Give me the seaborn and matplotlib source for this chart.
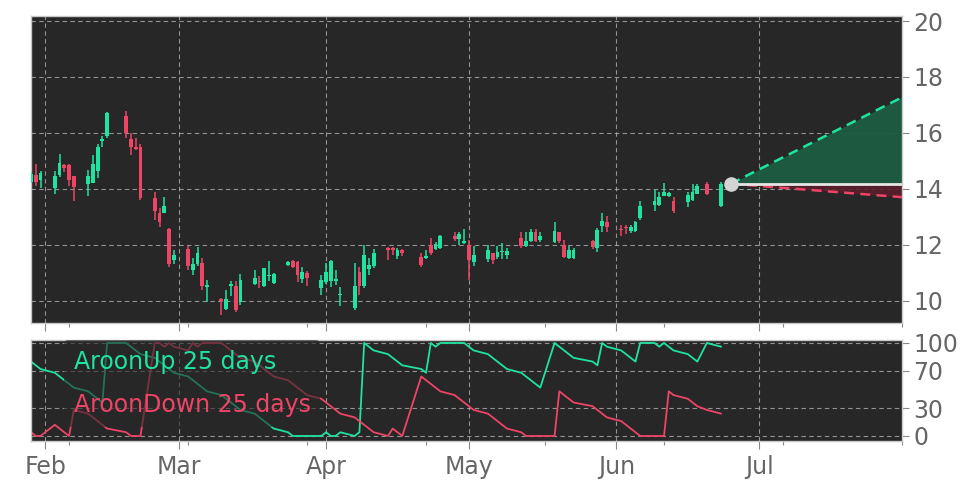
import numpy as np
import pandas as pd
import matplotlib
matplotlib.use("Agg")
import matplotlib.pyplot as plt
import matplotlib.dates as mdates
from matplotlib.lines import Line2D
from matplotlib.ticker import FixedLocator
import seaborn as sns

# ---------------- data ----------------
dates = [
    "2025-01-29", "2025-01-30", "2025-01-31",
    "2025-02-03", "2025-02-04", "2025-02-05", "2025-02-06", "2025-02-07",
    "2025-02-10", "2025-02-11", "2025-02-12", "2025-02-13", "2025-02-14",
    "2025-02-18", "2025-02-19", "2025-02-20", "2025-02-21",
    "2025-02-24", "2025-02-25", "2025-02-26", "2025-02-27", "2025-02-28",
    "2025-03-03", "2025-03-04", "2025-03-05", "2025-03-06", "2025-03-07",
    "2025-03-10", "2025-03-11", "2025-03-12", "2025-03-13", "2025-03-14",
    "2025-03-17", "2025-03-18", "2025-03-19", "2025-03-20", "2025-03-21",
    "2025-03-24", "2025-03-25", "2025-03-26", "2025-03-27", "2025-03-28",
    "2025-03-31", "2025-04-01", "2025-04-02", "2025-04-03", "2025-04-04",
    "2025-04-07", "2025-04-08", "2025-04-09", "2025-04-10", "2025-04-11",
    "2025-04-14", "2025-04-15", "2025-04-16", "2025-04-17",
    "2025-04-21", "2025-04-22", "2025-04-23", "2025-04-24", "2025-04-25",
    "2025-04-28", "2025-04-29", "2025-04-30", "2025-05-01", "2025-05-02",
    "2025-05-05", "2025-05-06", "2025-05-07", "2025-05-08", "2025-05-09",
    "2025-05-12", "2025-05-13", "2025-05-14", "2025-05-15", "2025-05-16",
    "2025-05-19", "2025-05-20", "2025-05-21", "2025-05-22", "2025-05-23",
    "2025-05-27", "2025-05-28", "2025-05-29", "2025-05-30",
    "2025-06-02", "2025-06-03", "2025-06-04", "2025-06-05", "2025-06-06",
    "2025-06-09", "2025-06-10", "2025-06-11", "2025-06-12", "2025-06-13",
    "2025-06-16", "2025-06-17", "2025-06-18", "2025-06-20", "2025-06-23",
]

opens = [
    14.26, 14.50, 14.30,
    14.02, 14.50, 14.86, 14.85, 14.44,
    14.17, 14.22, 14.62, 15.70, 15.90,
    16.60, 15.78, 15.48, 15.51,
    13.67, 13.13, 13.15, 12.55, 11.45,
    11.85, 11.10, 11.31, 11.35, 10.48,
    10.05, 9.70, 10.53, 10.51, 9.94,
    10.60, 10.71, 10.54, 10.87, 10.63,
    11.27, 11.43, 11.37, 10.78, 10.99,
    10.45, 10.65, 10.71, 10.69, 10.20,
    9.74, 11.01, 10.51, 11.13, 11.23,
    11.90, 11.90, 11.60, 11.82,
    11.56, 11.52, 12.00, 11.84, 11.88,
    12.32, 12.20, 12.06, 12.00, 11.37,
    11.48, 11.70, 11.56, 11.74, 11.64,
    12.24, 11.96, 12.12, 12.44, 12.18,
    12.08, 12.44, 12.00, 11.52, 11.52,
    12.12, 11.88, 12.68, 12.83,
    12.56, 12.62, 12.50, 12.48, 12.95,
    13.43, 13.43, 13.76, 13.73, 13.57,
    13.51, 13.61, 13.82, 14.18, 13.39,
]
highs = [
    14.60, 14.90, 14.62,
    14.65, 15.25, 14.90, 14.90, 14.46,
    14.68, 15.20, 15.60, 15.90, 16.76,
    16.80, 16.00, 15.80, 15.60,
    13.90, 13.32, 13.72, 12.60, 11.80,
    11.95, 11.54, 11.93, 11.54, 10.75,
    10.08, 10.39, 10.69, 10.69, 10.96,
    11.10, 10.87, 11.17, 11.40, 11.00,
    11.40, 11.45, 11.40, 11.19, 11.05,
    10.93, 11.35, 11.45, 11.10, 10.50,
    11.35, 11.19, 12.00, 11.54, 11.85,
    11.92, 11.92, 11.90, 11.84,
    11.70, 11.82, 12.24, 12.10, 12.36,
    12.45, 12.44, 12.56, 12.18, 11.96,
    12.00, 11.72, 11.94, 12.06, 11.87,
    12.44, 12.44, 12.56, 12.56, 12.44,
    12.80, 12.46, 12.18, 11.94, 11.90,
    12.18, 12.60, 13.13, 13.04,
    12.71, 12.71, 12.71, 12.84, 13.55,
    13.96, 13.90, 14.20, 13.90, 13.70,
    13.90, 14.18, 14.18, 14.26, 14.25,
]
lows = [
    14.20, 14.10, 14.03,
    13.81, 14.43, 14.60, 14.10, 13.55,
    13.73, 14.20, 14.40, 15.50, 15.82,
    15.80, 15.20, 15.40, 13.60,
    12.90, 12.65, 13.13, 11.20, 11.30,
    11.10, 10.93, 11.23, 10.39, 9.94,
    9.50, 9.68, 10.15, 9.60, 9.86,
    10.55, 10.45, 10.50, 10.69, 10.60,
    11.25, 11.15, 10.68, 10.64, 10.51,
    10.21, 10.60, 10.50, 10.57, 9.80,
    9.68, 10.20, 10.46, 10.93, 11.16,
    11.46, 11.64, 11.50, 11.60,
    11.20, 11.50, 11.64, 11.80, 11.85,
    12.14, 12.00, 12.04, 10.75, 11.25,
    11.38, 11.30, 11.49, 11.49, 11.50,
    11.90, 11.92, 12.08, 12.08, 12.10,
    12.06, 12.06, 11.52, 11.48, 11.48,
    11.85, 11.73, 12.47, 12.47,
    12.30, 12.38, 12.42, 12.44, 12.89,
    13.22, 13.39, 13.73, 13.70, 13.15,
    13.35, 13.55, 13.80, 13.79, 13.36,
]
closes = [
    14.54, 14.24, 14.58,
    14.44, 14.94, 14.74, 14.32, 14.06,
    14.44, 14.90, 15.48, 15.77, 16.72,
    15.99, 15.48, 15.42, 13.67,
    13.22, 12.83, 13.37, 11.30, 11.62,
    11.25, 11.31, 11.70, 10.51, 10.55,
    9.98, 10.07, 10.60, 9.65, 10.73,
    10.81, 10.65, 11.17, 10.93, 10.96,
    11.37, 11.20, 10.93, 11.01, 10.81,
    10.73, 11.01, 11.40, 10.78, 10.23,
    10.54, 10.54, 11.64, 11.29, 11.70,
    11.82, 11.82, 11.82, 11.70,
    11.29, 11.60, 11.70, 12.02, 12.32,
    12.20, 12.38, 12.15, 11.44, 11.64,
    11.82, 11.44, 11.74, 11.78, 11.76,
    11.94, 12.15, 12.45, 12.12, 12.30,
    12.50, 12.12, 11.56, 11.82, 11.82,
    11.92, 12.51, 12.86, 12.65,
    12.52, 12.58, 12.62, 12.80, 13.39,
    13.58, 13.72, 13.88, 13.85, 13.21,
    13.79, 13.90, 14.10, 13.82, 14.18,
]

aroon_up = [
    80, 76, 72,
    68, 64, 60, 56, 52,
    48, 44, 40, 36, 100,
    100, 96, 92, 88,
    84, 80, 76, 72, 68,
    64, 60, 56, 52, 48,
    44, 40, 36, 32, 28,
    24, 20, 16, 12, 8,
    4, 0, 0, 0, 0,
    0, 4, 0, 0, 4,
    0, 4, 100, 96, 92,
    88, 84, 80, 76,
    72, 68, 100, 96, 100,
    100, 100, 100, 96, 92,
    88, 84, 80, 76, 72,
    68, 64, 60, 56, 52,
    100, 96, 92, 88, 84,
    80, 76, 100, 96,
    92, 88, 84, 80, 100,
    100, 96, 100, 96, 92,
    88, 84, 80, 100, 96,
]
aroon_down = [
    4, 0, 0,
    12, 8, 4, 0, 28,
    24, 20, 16, 12, 8,
    4, 0, 0, 0,
    100, 100, 96, 100, 96,
    92, 100, 96, 100, 100,
    100, 96, 92, 88, 84,
    80, 76, 72, 68, 64,
    60, 56, 52, 48, 44,
    40, 36, 32, 28, 24,
    20, 16, 12, 8, 4,
    0, 8, 4, 0,
    64, 60, 56, 52, 48,
    44, 40, 36, 32, 28,
    24, 20, 16, 12, 8,
    4, 0, 0, 0, 0,
    0, 48, 44, 40, 36,
    32, 28, 24, 20,
    16, 12, 8, 4, 0,
    0, 0, 0, 48, 44,
    40, 36, 32, 28, 24,
]

proj_dates = ["2025-06-25", "2025-07-31"]
proj_mid = [14.18, 14.18]
proj_high = [14.18, 17.27]
proj_low = [14.18, 13.70]

price_ticks = [10, 12, 14, 16, 18, 20]
aroon_ticks = [0, 30, 70, 100]
minor_tick_dates = ["2025-02-06", "2025-03-03", "2025-03-28", "2025-04-22",
                    "2025-05-17", "2025-06-11", "2025-07-06", "2025-07-31"]
legend_labels = ["AroonUp 25 days", "AroonDown 25 days"]

# ---------------- style ----------------
sns.set_theme(style="dark")
plt.rcParams["font.family"] = ["DejaVu Sans"]

UP = "#1fe3a0"
DOWN = "#ee4466"
BG = "#272727"
TXT = "#666666"
FS = 17

df = pd.DataFrame({
    "date": pd.to_datetime(dates),
    "open": opens, "high": highs, "low": lows, "close": closes,
    "aroon_up": aroon_up, "aroon_down": aroon_down,
})
df["color"] = np.where(df["close"] >= df["open"], UP, DOWN)
df["body_lo"] = df[["open", "close"]].min(axis=1)
df["body_h"] = (df["close"] - df["open"]).abs().clip(lower=0.035)

fig = plt.figure(figsize=(9.72, 4.86), dpi=100)
fig.patch.set_facecolor("white")
ax1 = fig.add_axes([31 / 972, 1 - 323 / 486, 871 / 972, 307 / 486])
ax2 = fig.add_axes([31 / 972, 1 - 441 / 486, 871 / 972, 101 / 486], sharex=ax1)

for ax in (ax1, ax2):
    ax.set_facecolor(BG)
    for s in ax.spines.values():
        s.set_color("#c8c8c8")
        s.set_linewidth(1.0)
    ax.grid(True, which="major", color="#b8b8b8", linestyle=(0, (4, 3)),
            linewidth=0.8, alpha=0.75)
    ax.set_axisbelow(True)
    ax.yaxis.tick_right()
    ax.tick_params(axis="y", which="both", left=False, right=True,
                   labelleft=False, labelright=True, labelsize=FS,
                   labelcolor=TXT, color="#888888", length=5, width=0.8, pad=3)
    ax.tick_params(axis="x", which="major", bottom=True, length=6, width=0.8,
                   color="#888888", labelsize=FS, labelcolor=TXT, pad=4)
    ax.tick_params(axis="x", which="minor", bottom=True, length=3, width=0.8,
                   color="#888888")

# ---------------- candles ----------------
ax1.vlines(df["date"], df["low"], df["high"], colors=df["color"], linewidth=1.1,
           zorder=3)
ax1.bar(df["date"], df["body_h"], bottom=df["body_lo"], width=0.8,
        color=df["color"], linewidth=0, zorder=4)

# ---------------- projection cone ----------------
pdates = pd.to_datetime(proj_dates)
ax1.fill_between(pdates, proj_mid, proj_high, color="#1d5c42", alpha=0.95,
                 linewidth=0, zorder=2)
ax1.fill_between(pdates, proj_low, proj_mid, color="#5a1e2b", alpha=0.9,
                 linewidth=0, zorder=2)
ax1.plot(pdates, proj_high, color=UP, linestyle=(0, (4, 2.5)), linewidth=1.8,
         zorder=5)
ax1.plot(pdates, proj_low, color=DOWN, linestyle=(0, (4, 2.5)), linewidth=1.8,
         zorder=5)
ax1.plot(pdates, proj_mid, color="#e6e6e6", linewidth=2.0, zorder=5)
ax1.plot(pdates[:1], proj_mid[:1], marker="o", markersize=9.5,
         color="#d4d4d4", zorder=6, linestyle="none")

ax1.set_ylim(9.2, 20.18)
ax1.set_yticks(price_ticks)
ax1.set_ylabel("")
ax1.set_xlabel("")
ax1.tick_params(axis="x", labelbottom=False)

# ---------------- aroon ----------------
sns.lineplot(data=df, x="date", y="aroon_up", ax=ax2, color=UP, linewidth=1.3)
sns.lineplot(data=df, x="date", y="aroon_down", ax=ax2, color=DOWN, linewidth=1.3)
ax2.set_ylim(-5.4, 103.2)
ax2.set_yticks(aroon_ticks)
ax2.set_ylabel("")
ax2.set_xlabel("")

handles = [Line2D([], [], linewidth=0) for _ in legend_labels]
leg = ax2.legend(handles, legend_labels, loc="upper left",
                 bbox_to_anchor=(0.0375, 1.0), borderaxespad=0.0,
                 handlelength=0, handletextpad=0, borderpad=0.42,
                 labelspacing=0.8, fontsize=FS, frameon=True,
                 facecolor=BG, edgecolor="none", framealpha=0.6)
for t, c in zip(leg.get_texts(), [UP, DOWN]):
    t.set_color(c)

# ---------------- x axis ----------------
ax2.set_xlim(pd.Timestamp("2025-01-29"), pd.Timestamp("2025-07-31"))
ax2.xaxis.set_major_locator(mdates.MonthLocator())
ax2.xaxis.set_major_formatter(mdates.DateFormatter("%b"))
ax2.xaxis.set_minor_locator(FixedLocator(mdates.date2num(pd.to_datetime(minor_tick_dates))))

fig.savefig("out.png", dpi=100, facecolor="white")
